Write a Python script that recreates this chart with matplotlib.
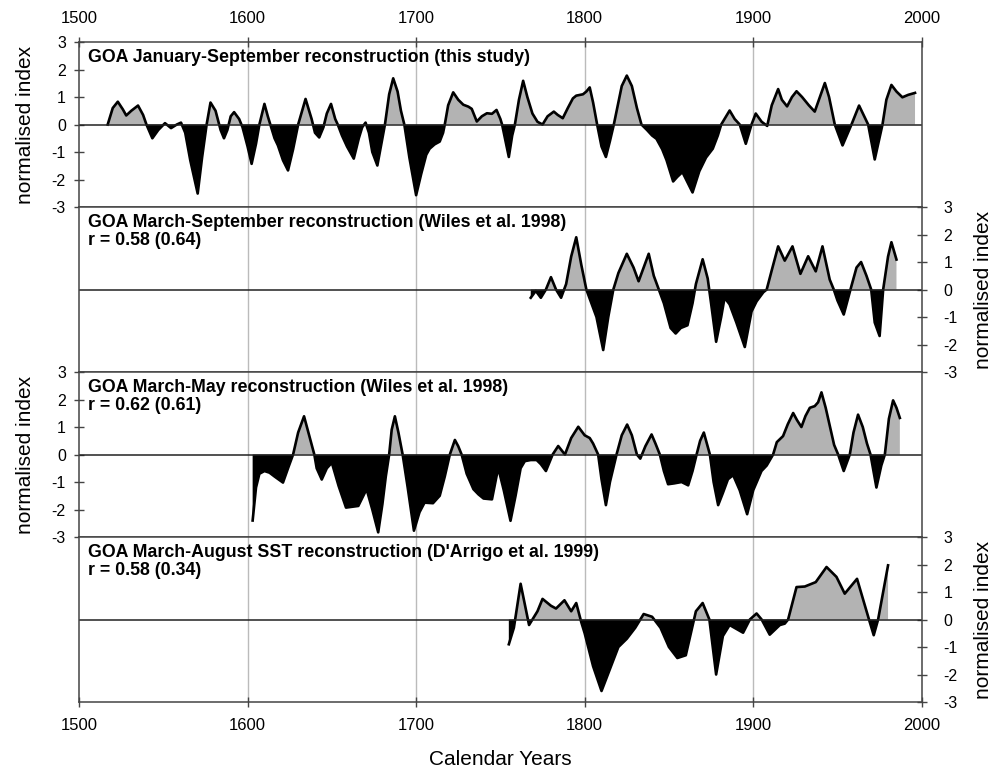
import matplotlib
matplotlib.use("Agg")
import matplotlib.pyplot as plt

plt.rcParams['font.family'] = ['Liberation Sans', 'DejaVu Sans']
plt.rcParams['axes.unicode_minus'] = False

# GOA January-September reconstruction (this study)
years_jan_sep = [1517, 1520, 1523, 1526, 1528, 1531, 1535, 1538, 1540, 1543.5, 1547, 1551, 1554.6, 1558,
                 1560.5, 1563, 1566, 1570.4, 1573, 1575.7, 1578, 1581, 1584, 1586, 1588, 1590, 1592, 1595,
                 1597, 1600, 1602.4, 1605, 1607, 1610, 1612, 1613.5, 1616, 1618, 1621, 1624, 1627, 1630,
                 1634.4, 1638, 1640, 1642.5, 1645, 1647, 1649.5, 1652, 1653.5, 1656, 1659, 1663, 1666,
                 1668, 1670, 1672, 1674, 1677, 1680, 1681.5, 1684, 1686.4, 1689, 1691, 1693, 1696, 1700,
                 1703, 1706, 1708, 1711, 1714, 1716, 1717, 1719, 1722, 1725, 1728, 1731, 1733, 1736, 1739,
                 1742, 1745, 1747.7, 1750, 1751, 1753, 1755, 1757, 1758.6, 1761, 1763.5, 1766, 1769, 1772,
                 1775, 1778, 1781.7, 1784, 1787, 1790, 1793, 1795, 1799, 1801, 1803, 1805, 1807.4, 1810,
                 1812.6, 1815, 1817.3, 1820, 1822, 1825, 1828, 1831, 1833.7, 1837, 1840, 1842.6, 1846,
                 1848.6, 1852.5, 1855, 1858, 1861, 1864, 1868, 1872, 1876, 1879, 1881, 1886, 1889, 1892,
                 1895.6, 1899, 1901.5, 1905, 1908.3, 1911, 1914.8, 1917, 1920.1, 1923, 1925.7, 1929, 1933,
                 1936.5, 1939, 1942.5, 1945, 1948.4, 1953, 1958.3, 1962.8, 1968.2, 1972.1, 1976.7, 1979,
                 1982, 1985, 1988.5, 1992, 1996]
vals_jan_sep = [0, 0.6, 0.83, 0.55, 0.33, 0.5, 0.69, 0.35, 0, -0.5, -0.2, 0.05, -0.13, 0.0,
                0.07, -0.3, -1.3, -2.51, -1.2, 0, 0.8, 0.5, -0.2, -0.5, -0.2, 0.3, 0.45, 0.2,
                -0.1, -0.8, -1.43, -0.7, 0.0, 0.75, 0.3, 0, -0.5, -0.76, -1.3, -1.67, -0.9, 0,
                0.93, 0.2, -0.3, -0.47, -0.1, 0.4, 0.75, 0.2, 0, -0.4, -0.8, -1.24, -0.5,
                -0.1, 0.07, -0.3, -1.0, -1.49, -0.5, 0, 1.1, 1.68, 1.2, 0.5, 0, -1.2, -2.57,
                -1.8, -1.1, -0.88, -0.72, -0.62, -0.3, 0, 0.7, 1.17, 0.9, 0.72, 0.65, 0.57, 0.11, 0.3,
                0.41, 0.39, 0.53, 0.2, 0, -0.6, -1.18, -0.4, 0, 0.9, 1.59, 1.0, 0.4, 0.1,
                0, 0.3, 0.47, 0.35, 0.23, 0.6, 0.95, 1.05, 1.1, 1.2, 1.35, 0.8, 0, -0.8,
                -1.18, -0.6, 0, 0.8, 1.4, 1.78, 1.4, 0.6, 0, -0.2, -0.4, -0.52, -0.9,
                -1.3, -2.07, -1.9, -1.73, -2.1, -2.47, -1.7, -1.2, -0.88, -0.4, 0, 0.51, 0.2, 0,
                -0.7, 0, 0.4, 0.1, -0.05, 0.7, 1.29, 0.9, 0.66, 1.0, 1.21, 1.0, 0.7,
                0.47, 0.9, 1.51, 1.0, 0, -0.76, 0, 0.69, 0, -1.27, 0, 0.9,
                1.44, 1.2, 0.99, 1.08, 1.15]

# GOA March-September reconstruction (Wiles et al. 1998)
years_mar_sep = [1768, 1771, 1774, 1777, 1780, 1783, 1786, 1789, 1792, 1795, 1798, 1801, 1804, 1807, 1811,
                 1814, 1817, 1820, 1825, 1829, 1832, 1835, 1838, 1841, 1844, 1847, 1851, 1854, 1857, 1861,
                 1864, 1866, 1870, 1873, 1875, 1878, 1881, 1883, 1886, 1890, 1895, 1899, 1902, 1906, 1908,
                 1911, 1914.8, 1918.7, 1923.3, 1928, 1932.6, 1937.1, 1941.1, 1945.4, 1947.8, 1950, 1953.7,
                 1957.7, 1961.3, 1964, 1967.2, 1970, 1972.1, 1975, 1977.1, 1980, 1982, 1985]
vals_mar_sep = [-0.3, -0.05, -0.3, 0, 0.45, 0.0, -0.3, 0.2, 1.2, 1.9, 0.9, 0, -0.5, -1.0, -2.2,
                -1.0, 0, 0.6, 1.3, 0.8, 0.3, 0.8, 1.3, 0.5, 0, -0.5, -1.4, -1.6, -1.4, -1.3,
                -0.5, 0.2, 1.1, 0.4, -0.5, -1.9, -1.0, -0.3, -0.54, -1.2, -2.09, -0.8, -0.43, -0.1, 0,
                0.7, 1.57, 1.05, 1.57, 0.57, 1.21, 0.66, 1.57, 0.36, 0, -0.4, -0.91,
                0, 0.8, 1.0, 0.5, 0, -1.2, -1.69, 0, 1.2, 1.72, 1.09]

# GOA March-May reconstruction (Wiles et al. 1998)
years_mar_may = [1603, 1605, 1607, 1610, 1613, 1616, 1621, 1624, 1627, 1630, 1633.5, 1637, 1639.6, 1641,
                 1644, 1647, 1650, 1654, 1658.4, 1662, 1665.7, 1670.6, 1674, 1677.5, 1680, 1682, 1684,
                 1685.5, 1687.4, 1689.5, 1692, 1695, 1698.7, 1702, 1705, 1710, 1714, 1717, 1720, 1723,
                 1725, 1727, 1730, 1734, 1737, 1740, 1745, 1748.7, 1752, 1756, 1759, 1762, 1764.5, 1768,
                 1771.5, 1774, 1777, 1779, 1781, 1784.3, 1788.3, 1792, 1796.2, 1800, 1803, 1805, 1808,
                 1810, 1812.6, 1815, 1818.9, 1822, 1825.2, 1828, 1831, 1833, 1836, 1839.7, 1842, 1844.6,
                 1847, 1849.5, 1853, 1857.5, 1861.4, 1864, 1866.4, 1868.5, 1870.7, 1872.5, 1874.3,
                 1876.5, 1879.2, 1882, 1885, 1888.1, 1892, 1896.4, 1900, 1904.9, 1908, 1911.8, 1914,
                 1917.7, 1920.5, 1923.7, 1926, 1928.6, 1931, 1933.6, 1936.5, 1938.5, 1940.5, 1943, 1946,
                 1948, 1950.4, 1953.7, 1957.3, 1959.5, 1962.2, 1965, 1967.5, 1969.6, 1973.1, 1976,
                 1978.1, 1980.5, 1983, 1985, 1987]
vals_mar_may = [-2.4, -1.2, -0.7, -0.6, -0.66, -0.8, -1.02, -0.5, 0, 0.8, 1.39, 0.6, 0, -0.5,
                -0.91, -0.5, -0.3, -1.14, -1.93, -1.9, -1.87, -1.26, -2.0, -2.83, -1.8, -0.8, 0,
                0.9, 1.39, 0.8, 0, -1.2, -2.77, -2.1, -1.75, -1.77, -1.5, -0.8, 0, 0.53,
                0.3, 0, -0.7, -1.26, -1.45, -1.6, -1.63, -0.48, -1.3, -2.41, -1.5, -0.5, -0.24, -0.2,
                -0.2, -0.35, -0.6, -0.3, 0, 0.31, 0.0, 0.6, 1.01, 0.7, 0.6, 0.4, 0,
                -0.9, -1.84, -1.0, 0, 0.7, 1.09, 0.7, 0, -0.15, 0.3, 0.73, 0.4, 0,
                -0.6, -1.08, -1.05, -1.0, -1.12, -0.6, 0, 0.5, 0.8, 0.4, 0,
                -1.0, -1.84, -1.4, -0.9, -0.75, -1.3, -2.17, -1.3, -0.6, -0.4, 0, 0.45,
                0.67, 1.1, 1.51, 1.25, 1.0, 1.4, 1.7, 1.76, 1.9, 2.26, 1.7, 0.9,
                0.35, 0, -0.6, 0, 0.8, 1.45, 1.0, 0.4, 0, -1.2, -0.4,
                0, 1.3, 1.97, 1.7, 1.33]

# GOA March-August SST reconstruction (D'Arrigo et al. 1999)
years_sst = [1755, 1758, 1762, 1767, 1772, 1775, 1780, 1783, 1788, 1792, 1795, 1798, 1800, 1805, 1810,
             1815, 1820, 1825, 1830, 1835, 1840, 1845, 1850, 1855, 1860, 1863, 1866, 1870, 1874, 1878,
             1882, 1886, 1894, 1898, 1902, 1905, 1909.8, 1915.8, 1918.7, 1920.7, 1925.7, 1930.6,
             1937.1, 1943.5, 1949.4, 1954.3, 1961.6, 1968.7, 1971.5, 1974.1, 1980]
vals_sst = [-0.9, -0.3, 1.3, -0.2, 0.3, 0.75, 0.5, 0.4, 0.7, 0.3, 0.6, -0.1, -0.5, -1.7, -2.6,
            -1.8, -1.0, -0.7, -0.3, 0.2, 0.1, -0.3, -1.0, -1.4, -1.3, -0.5, 0.3, 0.6, 0, -2.0,
            -0.6, -0.2, -0.48, 0, 0.22, 0, -0.55, -0.2, -0.15, 0, 1.18, 1.2,
            1.36, 1.91, 1.55, 0.94, 1.48, 0, -0.57, 0, 1.97]

titles = ["GOA January-September reconstruction (this study)",
          "GOA March-September reconstruction (Wiles et al. 1998)\nr = 0.58 (0.64)",
          "GOA March-May reconstruction (Wiles et al. 1998)\nr = 0.62 (0.61)",
          "GOA March-August SST reconstruction (D'Arrigo et al. 1999)\nr = 0.58 (0.34)"]
series = [(years_jan_sep, vals_jan_sep), (years_mar_sep, vals_mar_sep),
          (years_mar_may, vals_mar_may), (years_sst, vals_sst)]

fig, axes = plt.subplots(4, 1, figsize=(10.03, 7.74), dpi=100, sharex=True)
fig.subplots_adjust(left=0.0788, right=0.919, top=0.9457, bottom=0.093, hspace=0)

for i, ax in enumerate(axes):
    x, y = series[i]
    ax.fill_between(x, y, 0, where=[v >= 0 for v in y], interpolate=True,
                    color='#b3b3b3', linewidth=0)
    ax.fill_between(x, y, 0, where=[v <= 0 for v in y], interpolate=True,
                    color='black', linewidth=0)
    ax.plot(x, y, color='black', lw=1.9, solid_joinstyle='round')
    ax.axhline(0, color='#222222', lw=1.1)
    for g in [1600, 1700, 1800, 1900]:
        ax.axvline(g, color='#bbbbbb', lw=1.0, zorder=0)
    ax.set_xlim(1500, 2000)
    ax.set_ylim(-3, 3)
    ax.set_yticks(range(-3, 4))
    ax.text(0.011, 0.955, titles[i], transform=ax.transAxes, ha='left', va='top',
            fontsize=12.8, fontweight='bold', linespacing=1.05)
    for s in ax.spines.values():
        s.set_color('#444444')
        s.set_linewidth(1.1)
    ax.tick_params(axis='both', direction='inout', length=7, width=1, color='#444444')
    ax.tick_params(axis='x', labelsize=12, pad=8)
    if i % 2 == 1:
        ax.yaxis.tick_right()
        ax.yaxis.set_label_position('right')
        ax.tick_params(axis='y', labelsize=11.5, pad=12)
        ax.set_ylabel('normalised index', fontsize=15, labelpad=12)
    else:
        ax.tick_params(axis='y', labelsize=11.5, pad=6)
        ax.set_ylabel('normalised index', fontsize=15, labelpad=12)
    ax.tick_params(axis='x', which='both', bottom=(i == 3), top=(i == 0),
                   labelbottom=(i == 3), labeltop=(i == 0))

axes[0].set_xticks([1500, 1600, 1700, 1800, 1900, 2000])
axes[3].set_xlabel('Calendar Years', fontsize=15, labelpad=12)

fig.savefig('out.png', dpi=100)
